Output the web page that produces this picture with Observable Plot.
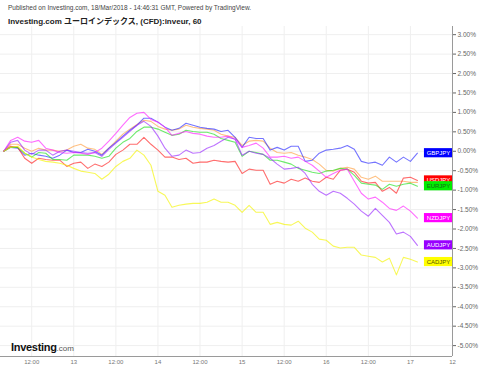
<!DOCTYPE html>
<html><head><meta charset="utf-8">
<script src="https://cdn.jsdelivr.net/npm/d3@7"></script>
<script src="https://cdn.jsdelivr.net/npm/@observablehq/plot@0.6"></script>
<style>
body{margin:0;background:#fff;font-family:"Liberation Sans",Arial,sans-serif;}
#wrap{position:relative;width:480px;height:369px;overflow:hidden;background:#fff;}
#chart{position:absolute;left:0;top:0;}
#pub{position:absolute;left:8px;top:4px;font-size:6.5px;color:#444;white-space:nowrap;}
#ttl{position:absolute;left:8px;top:15px;font-size:8px;font-weight:bold;color:#222;white-space:nowrap;font-family:"Liberation Sans","Noto Sans CJK JP",sans-serif;}
#logo{position:absolute;left:11px;top:337px;white-space:nowrap;}
#logo b{font-size:11px;letter-spacing:-0.3px;color:#111;}
#logo span{font-size:8px;color:#555;}
</style></head>
<body>
<div id="wrap">
<div id="chart"></div>
<div id="pub">Published on Investing.com, 18/Mar/2018 - 14:46:31 GMT, Powered by TradingView.</div>
<div id="ttl">Investing.com ユーロインデックス, (CFD):inveur, 60</div>
<div id="logo"><b>Investing</b><span>.com</span></div>
</div>
<script>
// time in hours since 12 Mar 00:00 (hourly chart, sampled)
const hours = [4,6,8,10,12,14,16,18,20,22,24,26,28,30,32,34,36,38,40,42,44,46,48,50,52,54,56,58,60,62,64,66,68,70,72,74,76,78,80,82,84,86,88,90,92,94,96,98,100,102,104,106,108,110,112,114,116,118,120,122];

const gbpjpy = [0,0.10,0.08,-0.10,-0.05,-0.10,-0.13,-0.18,-0.10,0.03,-0.03,-0.03,0.05,0,-0.10,0.08,0.23,0.39,0.54,0.67,0.85,0.85,0.75,0.62,0.54,0.59,0.72,0.67,0.62,0.59,0.57,0.51,0.54,0.36,0.10,0.36,0.33,0.33,0.03,0.10,0.03,0.13,0.13,-0.26,-0.23,-0.05,0.03,0.05,0.08,0.15,0.05,-0.26,-0.31,-0.28,-0.36,-0.15,-0.28,-0.15,-0.26,-0.05];
const chfjpy = [0,0.18,0.18,0.08,0,0.08,0.03,0.03,0,0.03,0.13,0.18,0.08,0.05,-0.08,0.08,0.26,0.44,0.57,0.69,0.80,0.77,0.64,0.57,0.54,0.57,0.67,0.62,0.59,0.57,0.54,0.44,0.39,0.36,0.15,0.26,0.28,0.26,0.08,-0.03,-0.05,-0.03,-0.10,-0.15,-0.21,-0.33,-0.49,-0.51,-0.44,-0.41,-0.46,-0.67,-0.72,-0.64,-0.77,-0.77,-0.77,-0.77,-0.80,-0.80];
const usdjpy = [0,0.13,0.10,-0.18,-0.31,-0.18,-0.21,-0.23,-0.23,-0.39,-0.31,-0.28,-0.44,-0.33,-0.39,-0.28,-0.08,0.03,0.18,0.18,0.36,0.18,0.03,-0.15,-0.15,-0.21,-0.18,-0.31,-0.28,-0.28,-0.23,-0.26,-0.28,-0.26,-0.57,-0.46,-0.49,-0.49,-0.85,-0.77,-0.82,-0.72,-0.77,-0.69,-0.77,-0.80,-0.67,-0.72,-0.49,-0.46,-0.54,-0.77,-0.82,-0.80,-1.03,-0.93,-1.08,-0.69,-0.67,-0.75];
const eurjpy = [0,0.10,0.10,-0.05,-0.15,-0.03,-0.05,-0.21,-0.21,-0.23,-0.10,-0.10,-0.10,-0.13,-0.18,-0.13,0.08,0.23,0.33,0.51,0.62,0.62,0.57,0.49,0.41,0.44,0.54,0.51,0.49,0.49,0.44,0.33,0.28,0.23,-0.13,0,-0.03,-0.08,-0.23,-0.23,-0.28,-0.33,-0.44,-0.49,-0.54,-0.57,-0.51,-0.49,-0.44,-0.46,-0.62,-0.82,-0.85,-0.87,-0.98,-0.85,-0.90,-0.85,-0.82,-0.90];
const nzdjpy = [0,0.28,0.36,0.26,0.23,0.28,0.08,0.03,-0.03,-0.05,-0.03,-0.05,-0.08,-0.03,0.08,0.26,0.46,0.67,0.87,0.98,1.00,0.82,0.75,0.62,0.41,0.46,0.51,0.46,0.44,0.39,0.36,0.36,0.39,0.31,0.10,0.15,0.21,0.08,-0.15,-0.15,-0.13,-0.18,-0.15,-0.26,-0.36,-0.51,-0.67,-0.57,-0.49,-0.46,-0.77,-1.08,-1.23,-1.18,-1.31,-1.47,-1.52,-1.41,-1.54,-1.72];
const audjpy = [0,0.23,0.28,0.03,-0.08,0.03,0.03,-0.10,0,0.03,0,-0.03,-0.05,-0.03,-0.13,0.05,0.21,0.36,0.51,0.67,0.77,0.64,0.39,0.08,-0.13,-0.10,0.03,-0.05,-0.03,0.08,0.15,0.26,0.36,0.31,-0.10,0,-0.05,-0.08,-0.18,-0.33,-0.46,-0.44,-0.41,-0.57,-0.85,-1.03,-1.13,-1.03,-1.08,-1.21,-1.36,-1.54,-1.67,-1.47,-1.65,-1.83,-2.13,-2.08,-2.19,-2.42];
const cadjpy = [0,0.10,0.13,-0.05,-0.15,-0.21,-0.26,-0.28,-0.31,-0.36,-0.44,-0.51,-0.54,-0.57,-0.72,-0.59,-0.39,-0.26,-0.18,0.03,-0.10,-0.36,-1.03,-1.13,-1.44,-1.39,-1.36,-1.34,-1.34,-1.31,-1.23,-1.31,-1.31,-1.39,-1.57,-1.39,-1.57,-1.57,-1.88,-1.83,-1.88,-1.90,-1.80,-1.98,-2.08,-2.26,-2.29,-2.44,-2.49,-2.47,-2.47,-2.67,-2.70,-2.73,-2.85,-2.75,-3.18,-2.73,-2.78,-2.85];

const yTicks = [3,2.5,2,1.5,1,0.5,0,-0.5,-1,-1.5,-2,-2.5,-3,-3.5,-4,-4.5,-5];
const xTicks = [12,24,36,48,60,72,84,96,108,120,132];
const xTickLabels = ["12:00","13","12:00","14","12:00","15","12:00","16","12:00","17","12"];

const series = [
  {name:"CHFJPY", values:chfjpy, line:"#ffa040", bg:null},
  {name:"GBPJPY", values:gbpjpy, line:"#2a2aff", bg:"#0000ff", fg:"#ffffff"},
  {name:"USDJPY", values:usdjpy, line:"#ff2020", bg:"#ff0000", fg:"#ffffff"},
  {name:"EURJPY", values:eurjpy, line:"#20e020", bg:"#00ee00", fg:"#1a6a1a"},
  {name:"NZDJPY", values:nzdjpy, line:"#ff20ff", bg:"#ff00ff", fg:"#ffffff"},
  {name:"AUDJPY", values:audjpy, line:"#9a2aff", bg:"#9900ff", fg:"#ffffff"},
  {name:"CADJPY", values:cadjpy, line:"#f4f400", bg:"#ffff00", fg:"#555500"}
];

const xMin = 3.1, xMax = 132, yMin = -5.28, yMax = 3.21;
const labelLeft = 124, halfBox = 0.118;
const xLabelMap = new Map(xTicks.map((t,i)=>[t, xTickLabels[i]]));

const marks = [
  Plot.gridY(yTicks, {stroke:"#efefef", strokeOpacity:1}),
  Plot.gridX(xTicks, {stroke:"#efefef", strokeOpacity:1}),
  Plot.ruleY([yMin], {stroke:"#9a9a9a"}),
  Plot.ruleX([xMax], {stroke:"#9a9a9a"}),
  Plot.axisY(yTicks, {anchor:"right", tickFormat:d=>d.toFixed(2)+"%", tickSize:3, tickPadding:2, fontSize:6.5, color:"#666", label:null}),
  Plot.axisX(xTicks, {anchor:"bottom", tickFormat:d=>xLabelMap.get(d), tickSize:0, tickPadding:3, fontSize:6, color:"#777", label:null})
];
for (const s of series) {
  const rows = s.values.map((v,i)=>({t:hours[i], v}));
  marks.push(Plot.line(rows, {x:"t", y:"v", stroke:s.line, strokeWidth:1.1, strokeOpacity:0.65, curve:"linear"}));
}
for (const s of series) {
  if (!s.bg) continue;
  const last = [{name:s.name, v:s.values[s.values.length-1]}];
  marks.push(Plot.rect(last, {x1:()=>labelLeft, x2:()=>xMax, y1:d=>d.v-halfBox, y2:d=>d.v+halfBox, fill:s.bg}));
  marks.push(Plot.text(last, {x:()=>(labelLeft+xMax)/2, y:"v", text:"name", fill:s.fg, fontSize:6}));
}

const chart = Plot.plot({
  width:480, height:369,
  marginTop:26, marginBottom:13, marginLeft:0, marginRight:28,
  x:{domain:[xMin,xMax]},
  y:{domain:[yMin,yMax]},
  style:{fontFamily:"'Liberation Sans', Arial, sans-serif", background:"transparent"},
  marks
});
document.getElementById("chart").appendChild(chart);
</script>
</body></html>
